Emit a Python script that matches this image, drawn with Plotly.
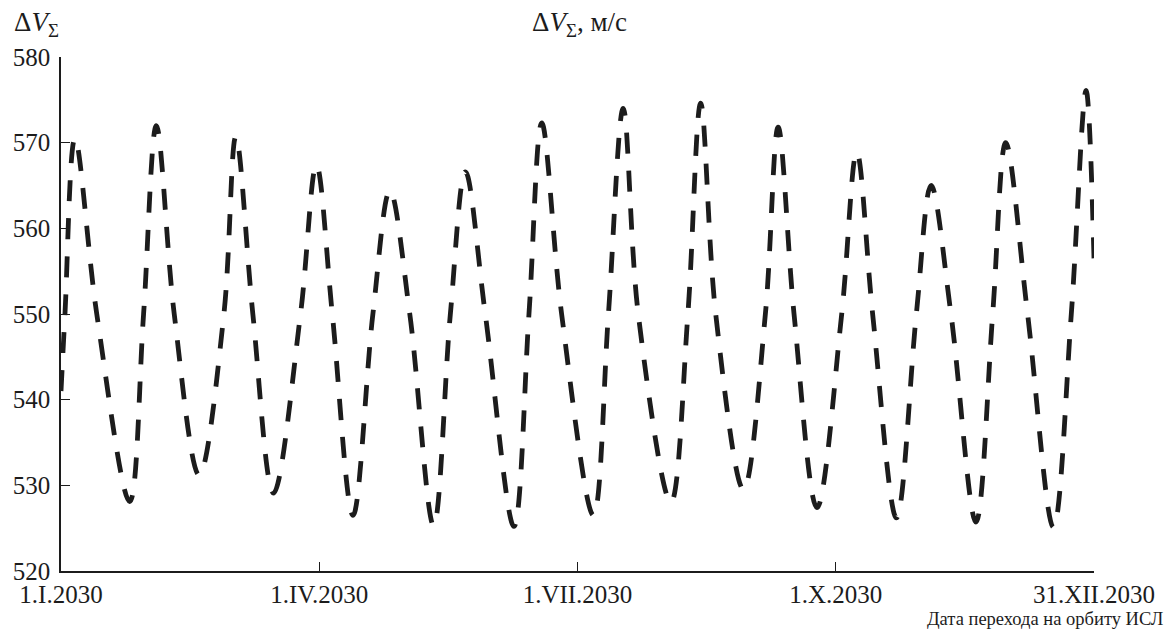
import plotly.graph_objects as go

# Day of year (0 = 1.I.2030) and ΔV_Σ (m/s)
days = [0.0, 1.4, 4.9, 12.6, 24.2, 29.1, 33.6, 39.9, 48.7, 57.4, 61.6, 67.6, 74.9,
        84.4, 90.0, 95.6, 102.9, 109.9, 115.9, 122.9, 131.3, 137.2, 142.5, 149.5,
        159.6, 164.9, 169.4, 176.4, 187.6, 192.9, 198.1, 203.4, 214.9, 220.9, 225.4,
        230.7, 240.5, 248.2, 252.7, 258.3, 266.4, 275.1, 280.4, 286.0, 294.4, 301.4,
        306.6, 313.6, 322.4, 328.3, 332.9, 340.6, 349.7, 356.0, 361.2, 364.0]
dv = [541.0, 550.0, 570.5, 550.0, 528.1, 550.0, 572.0, 550.0, 531.2, 550.0, 570.7, 550.0,
      529.1, 550.0, 567.4, 550.0, 526.5, 550.0, 564.4, 550.0, 525.3, 550.0, 566.6, 550.0,
      525.2, 550.0, 572.3, 550.0, 526.5, 550.0, 574.0, 550.0, 528.0, 550.0, 574.6, 550.0,
      529.5, 550.0, 571.8, 550.0, 527.4, 550.0, 568.9, 550.0, 526.2, 550.0, 565.0, 550.0,
      525.7, 550.0, 570.0, 550.0, 525.1, 550.0, 576.1, 556.5]

x_tick_vals = [0, 91, 182, 273, 364]
x_tick_text = ["1.I.2030", "1.IV.2030", "1.VII.2030", "1.X.2030", "31.XII.2030"]
y_tick_vals = [520, 530, 540, 550, 560, 570, 580]

FONT = "Liberation Serif"
INK = "#1c1c1c"

fig = go.Figure()
fig.add_trace(go.Scatter(
    x=days, y=dv, mode="lines",
    line=dict(color=INK, width=4.8, dash="21px,17px", shape="spline", smoothing=1.0),
    showlegend=False, hoverinfo="skip",
))

fig.update_layout(
    width=1167, height=634,
    margin=dict(l=61, r=66, t=57, b=63),
    paper_bgcolor="white", plot_bgcolor="white",
    font=dict(family=FONT, size=25, color=INK),
    showlegend=False,
    xaxis=dict(
        range=[0, 364], tickmode="array", tickvals=x_tick_vals, ticktext=x_tick_text,
        ticks="inside", ticklen=9, tickwidth=1.3, tickcolor=INK,
        showline=True, linecolor=INK, linewidth=1.5, showgrid=False, zeroline=False,
        tickfont=dict(family=FONT, size=25, color=INK),
    ),
    yaxis=dict(
        range=[520, 580], tickmode="array", tickvals=y_tick_vals,
        ticks="inside", ticklen=9, tickwidth=1.3, tickcolor=INK,
        showline=True, linecolor=INK, linewidth=1.5, showgrid=False, zeroline=False,
        tickfont=dict(family=FONT, size=25, color=INK), ticklabelstandoff=4,
    ),
    annotations=[
        dict(text="Δ<i>V</i><sub>Σ</sub>", xref="paper", yref="paper",
             x=-0.0471, y=1.065, xanchor="left", yanchor="middle", showarrow=False,
             font=dict(family=FONT, size=27, color=INK)),
        dict(text="Δ<i>V</i><sub>Σ</sub>, м/с", xref="paper", yref="paper",
             x=0.5015, y=1.065, xanchor="center", yanchor="middle", showarrow=False,
             font=dict(family=FONT, size=27, color=INK)),
        dict(text="Дата перехода на орбиту ИСЛ", xref="paper", yref="paper",
             x=1.0695, y=-0.093, xanchor="right", yanchor="middle", showarrow=False,
             font=dict(family=FONT, size=18.5, color=INK)),
    ],
)

fig.write_html("out.html", config={"displayModeBar": False},
               post_script="document.body.style.margin='0px';")
